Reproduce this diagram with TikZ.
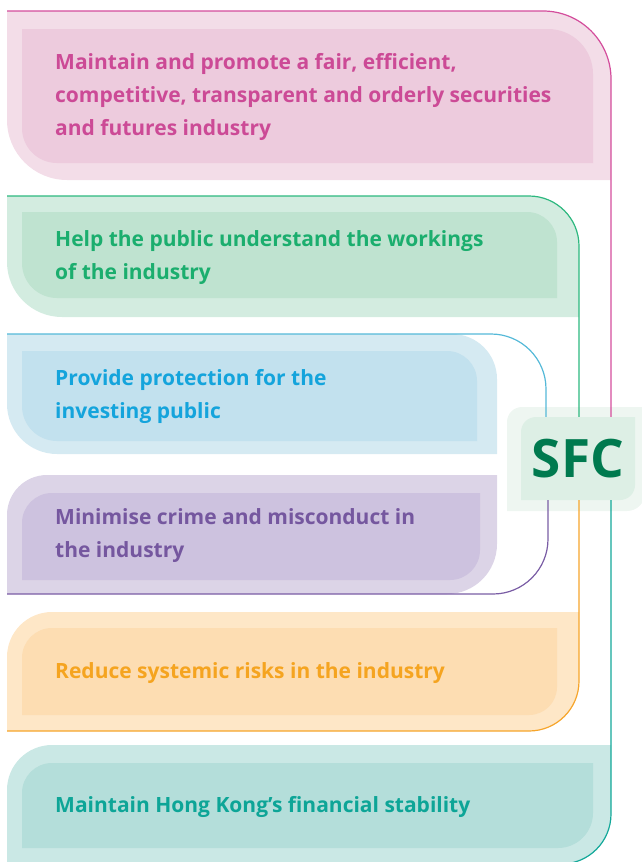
\documentclass[tikz,border=0pt]{standalone}
\usepackage{fontspec}
\setmainfont{Open Sans}
\usepackage{tikz}

\definecolor{pktext}{HTML}{CC4A96}
\definecolor{pkline}{HTML}{D44D9C}
\definecolor{pkout}{HTML}{F3DDE8}
\definecolor{pkin}{HTML}{EDCBDD}
\definecolor{grtext}{HTML}{1BAE6E}
\definecolor{grline}{HTML}{2DB87F}
\definecolor{grout}{HTML}{D3ECE0}
\definecolor{grin}{HTML}{BFE3D0}
\definecolor{bltext}{HTML}{14A4DC}
\definecolor{blline}{HTML}{55B9D8}
\definecolor{blout}{HTML}{D5EAF2}
\definecolor{blin}{HTML}{C2E1EE}
\definecolor{putext}{HTML}{75579F}
\definecolor{puline}{HTML}{7A5DA5}
\definecolor{puout}{HTML}{DCD4E7}
\definecolor{puin}{HTML}{CDC2DF}
\definecolor{ortext}{HTML}{F5A420}
\definecolor{orline}{HTML}{F6A52B}
\definecolor{orout}{HTML}{FEE7C7}
\definecolor{orin}{HTML}{FDDDB2}
\definecolor{tltext}{HTML}{0DA597}
\definecolor{tlline}{HTML}{12A899}
\definecolor{tlout}{HTML}{CAE8E5}
\definecolor{tlin}{HTML}{B4DEDA}
\definecolor{sfctext}{HTML}{007A4F}
\definecolor{sfcout}{HTML}{EEF6F1}
\definecolor{sfcin}{HTML}{DDEFE5}

% panel: style, left, top, right, bottom, then corner radii tl, tr, br, bl
\newcommand{\goalpanel}[9]{%
	\fill[#1] ({#2},{#3+#6}) arc (180:270:#6) -- ({#4-#7},{#3}) arc (270:360:#7)
		-- ({#4},{#5-#8}) arc (0:90:#8) -- ({#2+#9},{#5}) arc (90:180:#9) -- cycle;}

\tikzset{
	goal/.style={anchor=west, align=left, inner sep=0pt, font=\bfseries\fontsize{21}{33}\selectfont},
	link/.style={line width=1.2pt}
}

\begin{document}
\begin{tikzpicture}[x=1pt, y=-1pt]
			\useasboundingbox (0,0) rectangle (641,862);

			% panels
			\goalpanel{pkout}{7}{11}{611}{180}{0}{68}{0}{60}
			\goalpanel{pkin}{22}{29}{593}{163}{0}{45}{0}{35}
			\goalpanel{grout}{7}{196}{579}{317}{0}{50}{0}{55}
			\goalpanel{grin}{22}{212}{557}{298}{0}{30}{0}{35}
			\goalpanel{blout}{7}{334}{497}{454}{0}{45}{0}{50}
			\goalpanel{blin}{22}{351}{477}{441}{0}{30}{0}{35}
			\goalpanel{puout}{7}{475}{497}{594}{40}{0}{50}{0}
			\goalpanel{puin}{22}{493}{480}{580}{30}{0}{30}{0}
			\goalpanel{orout}{7}{612}{579}{731}{45}{0}{50}{0}
			\goalpanel{orin}{22}{628}{557}{715}{30}{0}{28}{0}
			\goalpanel{tlout}{7}{745}{611}{864}{45}{0}{50}{0}
			\goalpanel{tlin}{22}{763}{593}{848}{30}{0}{35}{0}

			% goals
			\node[goal, text=pktext] (fair) at (55,97) {Maintain and promote a fair, efficient,\\competitive, transparent and orderly securities\\and futures industry};
			\node[goal, text=grtext] (understand) at (55,258) {Help the public understand the workings\\of the industry};
			\node[goal, text=bltext] (protect) at (55,396) {Provide protection for the\\investing public};
			\node[goal, text=putext] (crime) at (55,536) {Minimise crime and misconduct in\\the industry};
			\node[goal, text=ortext] (risk) at (55,673) {Reduce systemic risks in the industry};
			\node[goal, text=tltext] (stability) at (55,807) {Maintain Hong Kong’s financial stability};

			% SFC
			\goalpanel{sfcout}{507}{407}{645}{511}{15}{0}{18}{0}
			\node[minimum width=114pt, minimum height=83pt, inner sep=0pt] (sfc) at (578,458.5) {};
			\goalpanel{sfcin}{521}{417}{635}{500}{15}{0}{15}{0}
			\node[text=sfctext, font=\bfseries\fontsize{53}{53}\selectfont] at (sfc) {SFC};

			% links to the goals
			\coordinate (fair-r) at (611,11);   \coordinate (fair-l) at (7,11);
			\coordinate (und-r) at (579,196);   \coordinate (und-l) at (7,196);
			\coordinate (pro-r) at (546,334);   \coordinate (pro-l) at (7,334);
			\coordinate (cri-r) at (548,594);   \coordinate (cri-l) at (7,594);
			\coordinate (ris-r) at (579,731);   \coordinate (ris-l) at (7,731);
			\coordinate (sta-r) at (611,864);   \coordinate (sta-l) at (7,864);

			\draw[link, pkline, rounded corners=68pt] (sfc.north -| fair-r) |- (fair-l);
			\draw[link, grline, rounded corners=50pt] (sfc.north -| und-r) |- (und-l);
			\draw[link, blline, rounded corners=55pt] (sfc.north -| pro-r) |- (pro-l);
			\draw[link, puline, rounded corners=55pt] (sfc.south -| cri-r) |- (cri-l);
			\draw[link, orline, rounded corners=50pt] (sfc.south -| ris-r) |- (ris-l);
			\draw[link, tlline, rounded corners=50pt] (sfc.south -| sta-r) |- (sta-l);
		\end{tikzpicture}
\end{document}
